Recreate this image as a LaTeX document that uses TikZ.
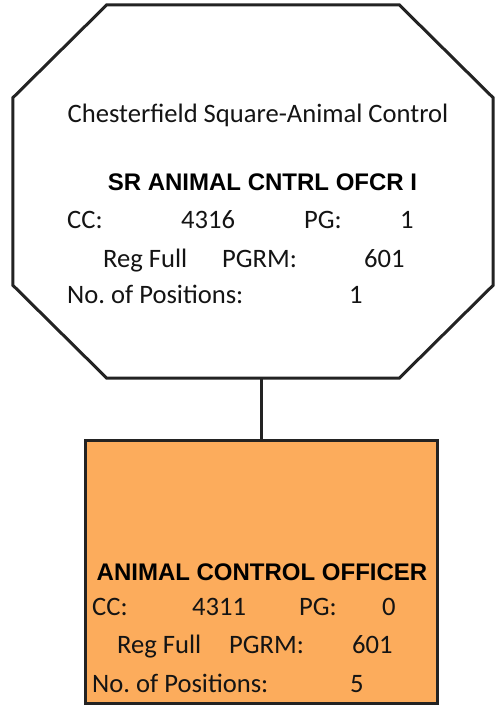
\documentclass[tikz,border=0pt]{standalone}
\usepackage{fontspec}
\setmainfont{Carlito}
\newfontfamily\arialb{Liberation Sans}
\definecolor{boxorange}{RGB}{252,172,92}
\definecolor{edgegray}{RGB}{35,35,35}
\begin{document}
\begin{tikzpicture}[x=1pt,y=-1pt,
  txt/.style={font=\fontsize{26.6}{30}\selectfont, inner sep=0pt, anchor=base west, text=black!92},
  ttl/.style={font=\arialb\bfseries\fontsize{24}{28}\selectfont, inner sep=0pt, anchor=base, text=black},
  edge/.style={line width=3pt, draw=edgegray, line join=miter}]
\useasboundingbox (0,0) rectangle (498,707);
% octagon frame
\node[minimum width=480pt, minimum height=373pt, inner sep=0pt] (oct) at (253,191.5) {};
\draw[edge] ([xshift=94pt]oct.north west) -- ([xshift=-94pt]oct.north east)
  -- ([yshift=-93pt]oct.north east) -- ([yshift=93pt]oct.south east)
  -- ([xshift=-94pt]oct.south east) -- ([xshift=94pt]oct.south west)
  -- ([yshift=93pt]oct.south west) -- ([yshift=-93pt]oct.north west) -- cycle;
% lower box
\node[edge, fill=boxorange, minimum width=352pt, minimum height=263pt, inner sep=0pt] (box) at (261.5,572) {};
% connector
\draw[edge] (box.north) -- (box.north |- oct.south);
% octagon texts
\node[txt, anchor=base] (t1) at (258,122) {Chesterfield Square-Animal Control};
\node[ttl] (t2) at (262.5,190) {SR ANIMAL CNTRL OFCR I};
\node[txt] (t3) at (67,228) {CC:};
\node[txt] (t4) at (181,228) {4316};
\node[txt] (t5) at (304,228) {PG:};
\node[txt] (t6) at (400,228) {1};
\node[txt] (t7) at (103,267) {Reg Full};
\node[txt] (t8) at (222,267) {PGRM:};
\node[txt] (t9) at (364,267) {601};
\node[txt] (t10) at (67,303) {No.\ of Positions:};
\node[txt] (t11) at (349,303) {1};
% box texts
\node[ttl] (b2) at (262,580) {ANIMAL CONTROL OFFICER};
\node[txt] (b3) at (92,615) {CC:};
\node[txt] (b4) at (192,615) {4311};
\node[txt] (b5) at (299,615) {PG:};
\node[txt] (b6) at (382,615) {0};
\node[txt] (b7) at (117,653) {Reg Full};
\node[txt] (b8) at (229,653) {PGRM:};
\node[txt] (b9) at (352,653) {601};
\node[txt] (b10) at (92,692) {No.\ of Positions:};
\node[txt] (b11) at (350,692) {5};
\end{tikzpicture}
\end{document}
